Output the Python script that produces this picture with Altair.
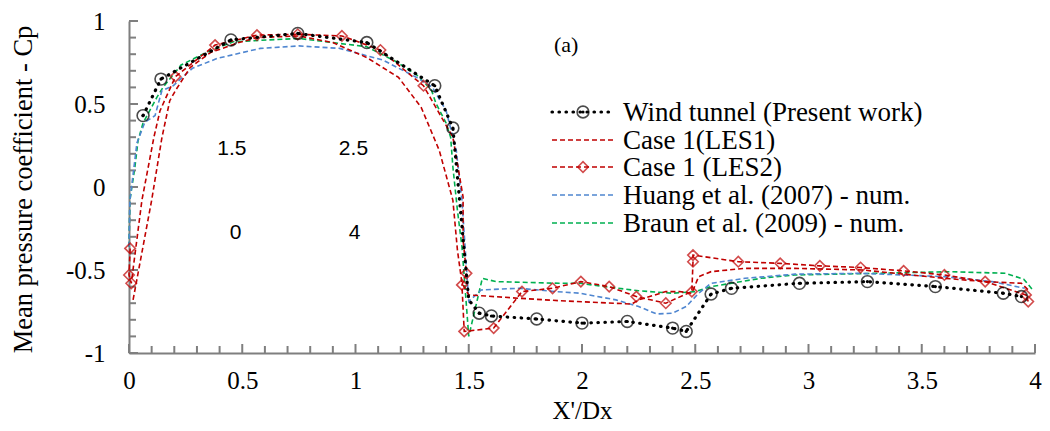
import altair as alt
import pandas as pd

# ---------------- data ----------------
wt_x = [0.062, 0.141, 0.45, 0.745, 1.05, 1.35, 1.43, 1.50, 1.546, 1.60, 1.80, 2.00, 2.20, 2.40, 2.46,
        2.57, 2.66, 2.96, 3.26, 3.56, 3.86, 3.94]
wt_y = [0.43, 0.65, 0.886, 0.925, 0.87, 0.61, 0.355, -0.68, -0.76, -0.777, -0.795, -0.82, -0.81, -0.85, -0.87,
        -0.645, -0.61, -0.58, -0.57, -0.60, -0.64, -0.66]
wt_mark = [1, 1, 1, 1, 1, 1, 1, 0, 1, 1, 1, 1, 1, 1, 1, 1, 1, 1, 1, 1, 1, 1]

les1_x = [0.018, 0.10, 0.145, 0.18, 0.207, 0.27, 0.36, 0.485, 0.565, 0.75, 0.90, 1.05, 1.19, 1.29, 1.37,
          1.43, 1.45, 1.47, 1.50, 1.72, 1.90, 2.22, 2.25, 2.37, 2.43, 2.485, 2.515, 2.57, 2.72, 2.94,
          3.24, 3.60, 3.78, 3.94, 3.97]
les1_y = [-0.68, -0.08, 0.295, 0.52, 0.585, 0.72, 0.81, 0.87, 0.90, 0.91, 0.87, 0.78, 0.66, 0.48, 0.22,
          -0.08, -0.38, -0.58, -0.65, -0.67, -0.685, -0.705, -0.68, -0.63, -0.63, -0.64, -0.54, -0.51, -0.49, -0.49,
          -0.50, -0.55, -0.57, -0.58, -0.62]

les2_x = [0.005, 0.0, 0.01, 0.057, 0.11, 0.137, 0.205, 0.38, 0.565, 0.745, 0.94, 1.11, 1.30, 1.43, 1.475,
          1.475, 1.49, 1.47, 1.48, 1.61, 1.735, 1.87, 1.995, 2.12, 2.24, 2.37, 2.485, 2.49, 2.49, 2.69,
          2.875, 3.05, 3.23, 3.42, 3.60, 3.78, 3.96, 3.97]
les2_y = [-0.37, -0.53, -0.58, -0.08, 0.30, 0.46, 0.665, 0.855, 0.915, 0.92, 0.91, 0.825, 0.61, 0.30, -0.06,
          -0.32, -0.52, -0.59, -0.87, -0.85, -0.63, -0.61, -0.57, -0.60, -0.66, -0.70, -0.63, -0.45, -0.41, -0.45,
          -0.46, -0.475, -0.485, -0.505, -0.53, -0.57, -0.65, -0.69]
les2_mark = [1, 1, 1, 0, 0, 0, 1, 1, 1, 1, 1, 1, 1, 0, 0,
             0, 1, 1, 1, 1, 1, 1, 1, 1, 1, 1, 1, 1, 1, 1,
             1, 1, 1, 1, 1, 1, 1, 1]

huang_x = [0.0, 0.004, 0.035, 0.07, 0.115, 0.145, 0.195, 0.28, 0.39, 0.58, 0.75, 0.93, 1.12, 1.27, 1.34,
           1.40, 1.445, 1.47, 1.50, 1.555, 1.72, 1.885, 1.99, 2.15, 2.25, 2.33, 2.40, 2.46, 2.515, 2.57,
           2.72, 2.94, 3.23, 3.60, 3.81, 3.955]
huang_y = [-0.36, -0.08, 0.265, 0.39, 0.43, 0.58, 0.61, 0.715, 0.775, 0.835, 0.85, 0.835, 0.765, 0.66, 0.60,
           0.46, 0.22, -0.08, -0.69, -0.62, -0.61, -0.63, -0.64, -0.68, -0.72, -0.765, -0.76, -0.72, -0.64, -0.58,
           -0.55, -0.525, -0.52, -0.54, -0.57, -0.61]

braun_x = [0.0, 0.004, 0.026, 0.04, 0.062, 0.123, 0.15, 0.23, 0.34, 0.46, 0.75, 1.05, 1.18, 1.27, 1.335,
           1.355, 1.40, 1.42, 1.43, 1.45, 1.47, 1.50, 1.56, 1.62, 1.90, 1.99, 2.10, 2.25, 2.40, 2.50,
           2.57, 2.79, 2.94, 3.30, 3.63, 3.87, 3.95, 3.99]
braun_y = [-0.36, -0.08, 0.12, 0.28, 0.385, 0.54, 0.60, 0.735, 0.81, 0.875, 0.895, 0.845, 0.755, 0.675, 0.585,
           0.505, 0.385, 0.30, 0.12, -0.14, -0.36, -0.90, -0.55, -0.57, -0.58, -0.58, -0.60, -0.625, -0.64, -0.63,
           -0.60, -0.55, -0.53, -0.52, -0.51, -0.52, -0.555, -0.62]

legend_labels = ["Wind tunnel (Present work)", "Case 1(LES1)", "Case 1 (LES2)",
                 "Huang et al. (2007) - num.", "Braun et al. (2009) - num."]

note_x = [0.454, 0.991, 0.471, 0.996]
note_y = [0.229, 0.229, -0.277, -0.277]
note_t = ["1.5", "2.5", "0", "4"]

x_major = [0, 0.5, 1, 1.5, 2, 2.5, 3, 3.5, 4]
y_major = [-1, -0.5, 0, 0.5, 1]
x_minor = [round(i * 0.1, 1) for i in range(41)]
y_minor = [round(-1 + i * 0.1, 1) for i in range(21)]

# ---------------- styling ----------------
W, H = 906, 332
SERIF = "Liberation Serif"
GRAY = "#7f7f7f"
RED = "#C00000"
BLUE = "#4F86D0"
GREEN = "#00B050"
TICK_PX_MINOR, TICK_PX_MAJOR = 7, 9

xs = alt.Scale(domain=[0, 4], nice=False, zero=False)
ys = alt.Scale(domain=[-1, 1], nice=False, zero=False)


def frame(x, y, m=None):
    d = pd.DataFrame({"x": x, "y": y, "i": list(range(len(x)))})
    d["m"] = m if m is not None else [1] * len(x)
    return d


def enc(ch, xa=None, ya=None):
    return ch.encode(
        x=alt.X("x:Q", scale=xs, axis=xa),
        y=alt.Y("y:Q", scale=ys, axis=ya),
        order="i:Q",
    )


main_x_axis = alt.Axis(orient="bottom", values=x_major, labelExpr="'' + datum.value", ticks=False,
                       tickSize=0, domainColor=GRAY, domainWidth=2, grid=False,
                       labelFont=SERIF, labelFontSize=25, labelColor="black", labelPadding=15,
                       labelFlush=False, labelOverlap=False,
                       title="X'/Dx", titleFont=SERIF, titleFontSize=25, titleFontWeight="normal",
                       titleColor="black", titleX=W / 2, titleY=57, titleBaseline="middle")
main_y_axis = alt.Axis(orient="left", values=y_major, labelExpr="'' + datum.value", ticks=False,
                       tickSize=0, domainColor=GRAY, domainWidth=2, grid=False,
                       labelFont=SERIF, labelFontSize=25, labelColor="black", labelPadding=24,
                       labelFlush=False, labelOverlap=False,
                       title="Mean pressure  coefficient - Cp", titleFont=SERIF, titleFontSize=26.5,
                       titleFontWeight="normal", titleColor="black", titleX=-106, titleY=H / 2 + 2,
                       titleAngle=270, titleAlign="center", titleBaseline="middle")

dash = [5, 3]

braun = enc(alt.Chart(frame(braun_x, braun_y)).mark_line(color=GREEN, strokeDash=dash, strokeWidth=1.6),
            main_x_axis, main_y_axis)
huang = enc(alt.Chart(frame(huang_x, huang_y)).mark_line(color=BLUE, strokeDash=dash, strokeWidth=1.6))
les1 = enc(alt.Chart(frame(les1_x, les1_y)).mark_line(color=RED, strokeDash=dash, strokeWidth=1.6))
les2_df = frame(les2_x, les2_y, les2_mark)
les2 = enc(alt.Chart(les2_df).mark_line(color=RED, strokeDash=dash, strokeWidth=1.6))
les2_pts = enc(alt.Chart(les2_df[les2_df["m"] == 1]).mark_point(
    shape="diamond", filled=False, size=110, color=RED, strokeWidth=1.6))
wt_df = frame(wt_x, wt_y, wt_mark)
wt = enc(alt.Chart(wt_df).mark_line(color="black", strokeDash=[0.5, 6.5], strokeWidth=3.2, strokeCap="round"))
wt_pts_df = wt_df[wt_df["m"] == 1]
wt_ring = enc(alt.Chart(wt_pts_df).mark_point(
    shape="circle", filled=False, size=140, color="black", strokeWidth=1.6))
wt_dot = enc(alt.Chart(wt_pts_df).mark_point(
    shape="circle", filled=True, size=10, color="black", opacity=1))


# inside-pointing tick marks every 0.1 (major ones a little longer)
def is_major(v):
    return abs(v * 2 - round(v * 2)) < 1e-9


xt = pd.DataFrame({"v": x_minor})
xt["a"] = -1.0
xt["b"] = [-1.0 + 2.0 * (TICK_PX_MAJOR if is_major(v) else TICK_PX_MINOR) / H for v in x_minor]
yt = pd.DataFrame({"v": y_minor})
yt["a"] = 0.0
yt["b"] = [4.0 * (TICK_PX_MAJOR if is_major(v) else TICK_PX_MINOR) / W for v in y_minor]
x_ticks = alt.Chart(xt).mark_rule(color=GRAY, strokeWidth=2).encode(
    x=alt.X("v:Q", scale=xs, axis=None),
    y=alt.Y("a:Q", scale=ys, axis=None), y2="b:Q")
y_ticks = alt.Chart(yt).mark_rule(color=GRAY, strokeWidth=2).encode(
    y=alt.Y("v:Q", scale=ys, axis=None),
    x=alt.X("a:Q", scale=xs, axis=None), x2="b:Q")

notes = alt.Chart(pd.DataFrame({"x": note_x, "y": note_y, "t": note_t})).mark_text(
    font="Liberation Sans", fontSize=21, color="black").encode(
    x=alt.X("x:Q", scale=xs, axis=None), y=alt.Y("y:Q", scale=ys, axis=None), text="t:N")

panel = alt.Chart(pd.DataFrame({"x": [1.93], "y": [0.855], "t": ["(a)"]})).mark_text(
    font=SERIF, fontSize=22, color="black").encode(
    x=alt.X("x:Q", scale=xs, axis=None), y=alt.Y("y:Q", scale=ys, axis=None), text="t:N")

# ---------------- legend (drawn by hand, top right) ----------------
LX1, LX2, LXM, LXT = 423, 484, 454, 494
row_y = [91, 119, 146, 174, 202]
leg_styles = [("black", [0.5, 6.5], 3.2), (RED, dash, 1.6), (RED, dash, 1.6), (BLUE, dash, 1.6), (GREEN, dash, 1.6)]
base = alt.Chart(pd.DataFrame({"k": [0]}))
legend_layers = []
for lab, ry, (col, dsh, sw) in zip(legend_labels, row_y, leg_styles):
    legend_layers.append(base.mark_rule(color=col, strokeDash=dsh, strokeWidth=sw,
                                        strokeCap="round" if col == "black" else "butt").encode(
        x=alt.value(LX1), x2=alt.value(LX2), y=alt.value(ry)))
    legend_layers.append(base.mark_text(font=SERIF, fontSize=27, align="left", baseline="middle", color="black").encode(
        x=alt.value(LXT), y=alt.value(ry + 1), text=alt.value(lab)))
legend_layers.append(base.mark_point(shape="circle", filled=False, size=140, color="black", strokeWidth=1.6).encode(
    x=alt.value(LXM), y=alt.value(row_y[0])))
legend_layers.append(base.mark_point(shape="circle", filled=True, size=10, color="black", opacity=1).encode(
    x=alt.value(LXM), y=alt.value(row_y[0])))
legend_layers.append(base.mark_point(shape="diamond", filled=False, size=110, color=RED, strokeWidth=1.6).encode(
    x=alt.value(LXM), y=alt.value(row_y[2])))

chart = alt.layer(
    braun, x_ticks, y_ticks,
    huang, les1, les2, les2_pts, wt, wt_ring, wt_dot, notes, panel, *legend_layers
).resolve_axis(x="independent", y="independent").properties(
    width=W, height=H,
    autosize=alt.AutoSizeParams(type="none"),
    padding={"left": 121, "top": 13, "right": 7, "bottom": 70},
    background="white",
).configure_view(stroke=None)

chart.save("out.html", embed_options={"renderer": "svg", "actions": False})
